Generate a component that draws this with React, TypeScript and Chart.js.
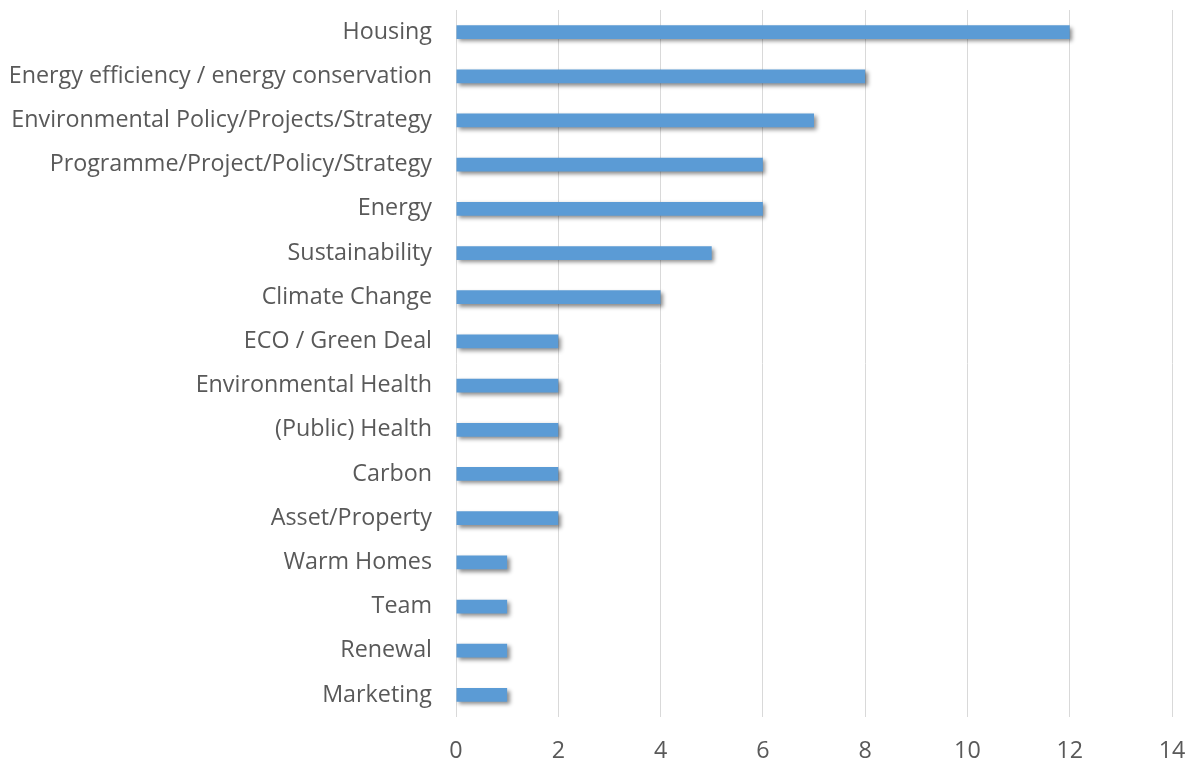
import React, { useEffect, useRef } from "react";
import { Chart, registerables } from "chart.js";

Chart.register(...registerables);

const categories = [
  "Housing",
  "Energy efficiency / energy conservation",
  "Environmental Policy/Projects/Strategy",
  "Programme/Project/Policy/Strategy",
  "Energy",
  "Sustainability",
  "Climate Change",
  "ECO / Green Deal",
  "Environmental Health",
  "(Public) Health",
  "Carbon",
  "Asset/Property",
  "Warm Homes",
  "Team",
  "Renewal",
  "Marketing",
];

const values = [12, 8, 7, 6, 6, 5, 4, 2, 2, 2, 2, 2, 1, 1, 1, 1];

const xTicks = [0, 2, 4, 6, 8, 10, 12, 14];

const shadowPlugin = {
  id: "barShadow",
  beforeDatasetsDraw(chart: any) {
    const ctx = chart.ctx;
    ctx.save();
    ctx.shadowColor = "rgba(0,0,0,0.45)";
    ctx.shadowBlur = 4;
    ctx.shadowOffsetX = 2.5;
    ctx.shadowOffsetY = 2.5;
  },
  afterDatasetsDraw(chart: any) {
    chart.ctx.restore();
  },
};

export default function App() {
  const ref = useRef<HTMLCanvasElement | null>(null);

  useEffect(() => {
    if (!ref.current) return;
    const font = { family: "'Open Sans', sans-serif", size: 23.3 };
    const chart = new Chart(ref.current, {
      type: "bar",
      data: {
        labels: categories,
        datasets: [
          {
            data: values,
            backgroundColor: "#5B9BD5",
            borderWidth: 0,
            barPercentage: 0.62,
            categoryPercentage: 0.5,
          },
        ],
      },
      options: {
        indexAxis: "y",
        animation: false,
        responsive: false,
        maintainAspectRatio: false,
        layout: { padding: { left: 0, right: 16, top: 10, bottom: 0 } },
        plugins: {
          legend: { display: false },
          tooltip: { enabled: false },
        },
        scales: {
          x: {
            min: 0,
            max: 14,
            afterBuildTicks(scale: any) {
              scale.ticks = xTicks.map((v) => ({ value: v }));
            },
            afterFit(scale: any) {
              scale.height = 45;
              scale.paddingLeft = 0;
              scale.paddingRight = 0;
            },
            grid: {
              color: "#d9d9d9",
              lineWidth: 1,
              drawTicks: false,
            },
            border: { display: false },
            ticks: {
              font,
              color: "#595959",
              padding: 20,
            },
          },
          y: {
            afterFit(scale: any) {
              scale.width = 456;
              scale.paddingTop = 0;
              scale.paddingBottom = 0;
            },
            grid: { display: false, drawTicks: false },
            border: { display: false },
            ticks: {
              font,
              color: "#595959",
              padding: 24,
              autoSkip: false,
            },
          },
        },
      },
      plugins: [shadowPlugin],
    });
    return () => chart.destroy();
  }, []);

  return (
    <div style={{ position: "fixed", left: 0, top: 0, width: 1188, height: 762, background: "#fff" }}>
      <canvas ref={ref} width={1188} height={762} style={{ width: 1188, height: 762 }} />
    </div>
  );
}
